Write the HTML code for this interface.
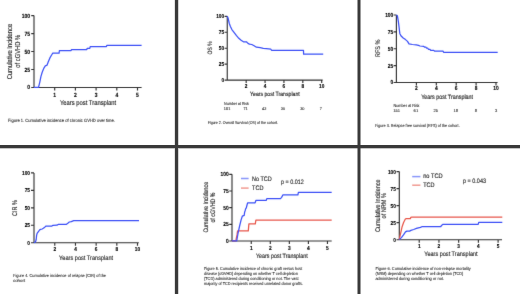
<!DOCTYPE html>
<html><head><meta charset="utf-8"><style>
html,body{margin:0;padding:0;background:#fff;width:520px;height:294px;overflow:hidden}
svg{display:block;will-change:transform;font-family:"Liberation Sans",sans-serif;text-rendering:geometricPrecision}
.ax{stroke:#333;stroke-width:1.15;fill:none}
.tl{font-weight:bold;fill:#000;stroke:#000;stroke-width:0.12px}
.al{fill:#111;stroke:#111;stroke-width:0.1px}
.cap,.num{fill:#111;stroke:#111;stroke-width:0.05px}
.b{stroke:#3b50f6;stroke-width:1.25;fill:none;stroke-linejoin:round}
.r{stroke:#e8574a;stroke-width:1.25;fill:none;stroke-linejoin:round}
.lg{stroke-width:1.5;opacity:.6}
</style></head><body>
<svg width="520" height="294" viewBox="0 0 520 294">
<defs><filter id="bl" x="-5%" y="-5%" width="110%" height="110%"><feConvolveMatrix order="3" kernelMatrix="0.0052 0.0619 0.0052 0.0619 0.7314 0.0619 0.0052 0.0619 0.0052" divisor="1" edgeMode="none"/></filter></defs>
<rect width="520" height="294" fill="#fff"/>
<g filter="url(#bl)">
<path class="ax" d="M34 15.6V87.45H141.6 M31.2 15.6H34 M31.2 33.56H34 M31.2 51.52H34 M31.2 69.49H34 M31.2 87.45H34 M54.7 87.45V90.45 M75.4 87.45V90.45 M96.1 87.45V90.45 M116.8 87.45V90.45 M137.5 87.45V90.45"/>
<g class="tl" font-size="6" text-anchor="end"><text x="30.1" y="17.61" textLength="8.34" lengthAdjust="spacingAndGlyphs">100</text><text x="30.1" y="35.57" textLength="5.56" lengthAdjust="spacingAndGlyphs">75</text><text x="30.1" y="53.53" textLength="5.56" lengthAdjust="spacingAndGlyphs">50</text><text x="30.1" y="71.5" textLength="5.56" lengthAdjust="spacingAndGlyphs">25</text><text x="30.1" y="89.46" textLength="2.78" lengthAdjust="spacingAndGlyphs">0</text></g>
<g class="tl" font-size="6" text-anchor="middle"><text x="54.7" y="96.7" textLength="2.78" lengthAdjust="spacingAndGlyphs">1</text><text x="75.4" y="96.7" textLength="2.78" lengthAdjust="spacingAndGlyphs">2</text><text x="96.1" y="96.7" textLength="2.78" lengthAdjust="spacingAndGlyphs">3</text><text x="116.8" y="96.7" textLength="2.78" lengthAdjust="spacingAndGlyphs">4</text><text x="137.5" y="96.7" textLength="2.78" lengthAdjust="spacingAndGlyphs">5</text></g>
<text class="al" x="60" y="104.7" font-size="6.9" textLength="56.2" lengthAdjust="spacingAndGlyphs">Years post Transplant</text>
<text class="al" font-size="7.14" text-anchor="middle" transform="translate(12.2 51.6) rotate(-90)" textLength="55.4" lengthAdjust="spacingAndGlyphs">Cumulative Incidence</text>
<text class="al" font-size="7.14" text-anchor="middle" transform="translate(19.8 51.3) rotate(-90)" textLength="32.8" lengthAdjust="spacingAndGlyphs">of cGVHD %</text>
<text class="cap" x="8.1" y="121.7" font-size="4.59" textLength="106.7" lengthAdjust="spacingAndGlyphs">Figure 1. Cumulative incidence of chronic GVHD over time.</text>
<polyline class="b" points="34,87.45 38.5,87.45 39.7,82.6 40.9,76.6 42.2,72.3 43.9,68.1 45.3,65.9 47,65.2 48.2,62.1 49.9,57.9 51.6,55 52.8,53.2 59.1,53.2 59.4,50.5 71.1,50.5 71.4,49.6 86.8,49.6 87.1,48.4 89.8,48.4 90.2,46.7 106.4,46.7 106.8,45.3 141.6,45.3"/>
<path class="ax" d="M227.25 16.3V80.1H322.7 M224.55 16.3H227.25 M224.55 32.25H227.25 M224.55 48.2H227.25 M224.55 64.15H227.25 M224.55 80.1H227.25 M246.18 80.1V82.9 M265.06 80.1V82.9 M283.94 80.1V82.9 M302.82 80.1V82.9 M321.7 80.1V82.9"/>
<g class="tl" font-size="5.7" text-anchor="end"><text x="224.1" y="18.2" textLength="7.92" lengthAdjust="spacingAndGlyphs">100</text><text x="224.1" y="34.15" textLength="5.28" lengthAdjust="spacingAndGlyphs">75</text><text x="224.1" y="50.1" textLength="5.28" lengthAdjust="spacingAndGlyphs">50</text><text x="224.1" y="66.05" textLength="5.28" lengthAdjust="spacingAndGlyphs">25</text><text x="224.1" y="82" textLength="2.64" lengthAdjust="spacingAndGlyphs">0</text></g>
<g class="tl" font-size="5.7" text-anchor="middle"><text x="246.18" y="88.3" textLength="2.64" lengthAdjust="spacingAndGlyphs">2</text><text x="265.06" y="88.3" textLength="2.64" lengthAdjust="spacingAndGlyphs">4</text><text x="283.94" y="88.3" textLength="2.64" lengthAdjust="spacingAndGlyphs">6</text><text x="302.82" y="88.3" textLength="2.64" lengthAdjust="spacingAndGlyphs">8</text><text x="321.7" y="88.3" textLength="5.28" lengthAdjust="spacingAndGlyphs">10</text></g>
<text class="al" x="250.1" y="96" font-size="6.03" textLength="49.6" lengthAdjust="spacingAndGlyphs">Years post Transplant</text>
<text class="al" font-size="6.32" text-anchor="middle" transform="translate(211.5 47.9) rotate(-90)" textLength="13.1" lengthAdjust="spacingAndGlyphs">OS %</text>
<text class="cap" x="224.1" y="104.7" font-size="4.2" textLength="24.8" lengthAdjust="spacingAndGlyphs">Number at Risk</text>
<text class="num" x="227.1" y="109.5" font-size="3.9" text-anchor="middle">151</text>
<text class="num" x="245.6" y="109.5" font-size="3.9" text-anchor="middle">71</text>
<text class="num" x="264.2" y="109.5" font-size="3.9" text-anchor="middle">42</text>
<text class="num" x="282.9" y="109.5" font-size="3.9" text-anchor="middle">30</text>
<text class="num" x="302.3" y="109.5" font-size="3.9" text-anchor="middle">30</text>
<text class="num" x="320.9" y="109.5" font-size="3.9" text-anchor="middle">7</text>
<text class="cap" x="207.7" y="123.5" font-size="4.09" textLength="70.2" lengthAdjust="spacingAndGlyphs">Figure 2. Overall Survival (OS) of the cohort.</text>
<polyline class="b" points="227.2,16.3 228.1,18.1 229.3,23.5 230.4,26.5 231.9,29.6 234.2,32.7 236.5,35.7 238.8,38.3 241.1,40.3 243.4,41.8 246.4,41.8 248,43.4 249.5,44.1 251.8,44.5 254.1,45.7 256.4,47.2 260.2,47.7 263.3,48.4 266.3,48.7 270.9,49.2 271.5,50.3 303.5,50.3 303.6,54.2 323.2,54.2"/>
<path class="ax" d="M396.4 15V82.45H497.6 M393.6 15H396.4 M393.6 31.86H396.4 M393.6 48.73H396.4 M393.6 65.59H396.4 M393.6 82.45H396.4 M416.4 82.45V85.45 M436.3 82.45V85.45 M456.2 82.45V85.45 M476.1 82.45V85.45 M496 82.45V85.45"/>
<g class="tl" font-size="5.88" text-anchor="end"><text x="393.3" y="16.97" textLength="8.17" lengthAdjust="spacingAndGlyphs">100</text><text x="393.3" y="33.83" textLength="5.45" lengthAdjust="spacingAndGlyphs">75</text><text x="393.3" y="50.69" textLength="5.45" lengthAdjust="spacingAndGlyphs">50</text><text x="393.3" y="67.55" textLength="5.45" lengthAdjust="spacingAndGlyphs">25</text><text x="393.3" y="84.42" textLength="2.72" lengthAdjust="spacingAndGlyphs">0</text></g>
<g class="tl" font-size="5.88" text-anchor="middle"><text x="416.4" y="90.4" textLength="2.72" lengthAdjust="spacingAndGlyphs">2</text><text x="436.3" y="90.4" textLength="2.72" lengthAdjust="spacingAndGlyphs">4</text><text x="456.2" y="90.4" textLength="2.72" lengthAdjust="spacingAndGlyphs">6</text><text x="476.1" y="90.4" textLength="2.72" lengthAdjust="spacingAndGlyphs">8</text><text x="496" y="90.4" textLength="5.45" lengthAdjust="spacingAndGlyphs">10</text></g>
<text class="al" x="421.2" y="98.8" font-size="6.32" textLength="51.9" lengthAdjust="spacingAndGlyphs">Years post Transplant</text>
<text class="al" font-size="6.67" text-anchor="middle" transform="translate(380.2 48.4) rotate(-90)" textLength="17.3" lengthAdjust="spacingAndGlyphs">RFS %</text>
<text class="cap" x="393.5" y="107.1" font-size="4.37" textLength="26" lengthAdjust="spacingAndGlyphs">Number at Risk</text>
<text class="num" x="396.6" y="112.1" font-size="4.1" text-anchor="middle">151</text>
<text class="num" x="415.9" y="112.1" font-size="4.1" text-anchor="middle">61</text>
<text class="num" x="435.8" y="112.1" font-size="4.1" text-anchor="middle">25</text>
<text class="num" x="455.8" y="112.1" font-size="4.1" text-anchor="middle">18</text>
<text class="num" x="475.8" y="112.1" font-size="4.1" text-anchor="middle">8</text>
<text class="num" x="496.2" y="112.1" font-size="4.1" text-anchor="middle">3</text>
<text class="cap" x="375" y="126.9" font-size="4.37" textLength="84.7" lengthAdjust="spacingAndGlyphs">Figure 3. Relapse free survival (RFS) of the cohort.</text>
<polyline class="b" points="396.4,15.1 397.4,15.8 398.3,21.2 399.1,27.3 399.8,33.4 400.9,35.7 403.2,38 405.5,39.6 407.5,41.4 409,43.8 412.4,44.5 416.2,44.9 418.5,45.4 420,46 423.8,46.4 424.6,47.2 426,47.2 426.6,48.2 427.8,48.2 428.4,49.3 430,49.3 430.5,50.3 433.8,50.3 434.5,51.1 443,51.1 443.6,52.3 497.7,52.3"/>
<path class="ax" d="M34 172.9V242.75H138.8 M31 172.9H34 M31 190.36H34 M31 207.82H34 M31 225.29H34 M31 242.75H34 M54.78 242.75V245.75 M75.46 242.75V245.75 M96.14 242.75V245.75 M116.82 242.75V245.75 M137.5 242.75V245.75"/>
<g class="tl" font-size="5.7" text-anchor="end"><text x="30" y="174.8" textLength="7.92" lengthAdjust="spacingAndGlyphs">100</text><text x="30" y="192.26" textLength="5.28" lengthAdjust="spacingAndGlyphs">75</text><text x="30" y="209.73" textLength="5.28" lengthAdjust="spacingAndGlyphs">50</text><text x="30" y="227.19" textLength="5.28" lengthAdjust="spacingAndGlyphs">25</text><text x="30" y="244.65" textLength="2.64" lengthAdjust="spacingAndGlyphs">0</text></g>
<g class="tl" font-size="5.7" text-anchor="middle"><text x="54.78" y="251" textLength="2.64" lengthAdjust="spacingAndGlyphs">2</text><text x="75.46" y="251" textLength="2.64" lengthAdjust="spacingAndGlyphs">4</text><text x="96.14" y="251" textLength="2.64" lengthAdjust="spacingAndGlyphs">6</text><text x="116.82" y="251" textLength="2.64" lengthAdjust="spacingAndGlyphs">8</text><text x="137.5" y="251" textLength="5.28" lengthAdjust="spacingAndGlyphs">10</text></g>
<text class="al" x="59.1" y="259.7" font-size="6.55" textLength="54" lengthAdjust="spacingAndGlyphs">Years post Transplant</text>
<text class="al" font-size="6.79" text-anchor="middle" transform="translate(16.9 208.1) rotate(-90)" textLength="15.8" lengthAdjust="spacingAndGlyphs">CIR %</text>
<text class="cap" x="13" y="276.9" font-size="4.37" textLength="93" lengthAdjust="spacingAndGlyphs">Figure 4. Cumulative incidence of relapse (CIR) of the</text>
<text class="cap" x="13" y="282.3" font-size="4.37">cohort</text>
<polyline class="b" points="34,242.75 35.6,241.7 36.2,239.5 36.6,235.4 37.1,233.4 38.2,231.8 39.7,229.9 40.7,229.3 42.2,229 43.3,228.3 44.8,227.2 45.8,226.1 51.9,226.1 53,225.3 57,225.2 58.1,224.4 66.2,224.4 67.8,223.2 69.3,222 71.3,221.6 73.7,220.6 139,220.6"/>
<path class="ax" d="M232 174.3V241H331.7 M229.2 174.3H232 M229.2 190.98H232 M229.2 207.65H232 M229.2 224.32H232 M229.2 241H232 M251.25 241V244 M270.3 241V244 M289.35 241V244 M308.4 241V244 M327.45 241V244"/>
<g class="tl" font-size="5.88" text-anchor="end"><text x="228.7" y="176.27" textLength="8.17" lengthAdjust="spacingAndGlyphs">100</text><text x="228.7" y="192.94" textLength="5.45" lengthAdjust="spacingAndGlyphs">75</text><text x="228.7" y="209.62" textLength="5.45" lengthAdjust="spacingAndGlyphs">50</text><text x="228.7" y="226.29" textLength="5.45" lengthAdjust="spacingAndGlyphs">25</text><text x="228.7" y="242.97" textLength="2.72" lengthAdjust="spacingAndGlyphs">0</text></g>
<g class="tl" font-size="5.88" text-anchor="middle"><text x="251.25" y="249.5" textLength="2.72" lengthAdjust="spacingAndGlyphs">1</text><text x="270.3" y="249.5" textLength="2.72" lengthAdjust="spacingAndGlyphs">2</text><text x="289.35" y="249.5" textLength="2.72" lengthAdjust="spacingAndGlyphs">3</text><text x="308.4" y="249.5" textLength="2.72" lengthAdjust="spacingAndGlyphs">4</text><text x="327.45" y="249.5" textLength="2.72" lengthAdjust="spacingAndGlyphs">5</text></g>
<text class="al" x="256" y="257.7" font-size="6.32" textLength="51.7" lengthAdjust="spacingAndGlyphs">Years post Transplant</text>
<text class="al" font-size="6.55" text-anchor="middle" transform="translate(208.3 207.2) rotate(-90)" textLength="50.6" lengthAdjust="spacingAndGlyphs">Cumulative Incidence</text>
<text class="al" font-size="6.55" text-anchor="middle" transform="translate(214.8 207.5) rotate(-90)" textLength="30.2" lengthAdjust="spacingAndGlyphs">of cGVHD %</text>
<path class="b lg" d="M241 178.5H248.6"/><path class="r lg" d="M241 188.1H248.6"/>
<text class="al" x="252" y="180.9" font-size="6.55" textLength="19.6" lengthAdjust="spacingAndGlyphs">No TCD</text>
<text class="al" x="252" y="189.9" font-size="6.55" textLength="11.4" lengthAdjust="spacingAndGlyphs">TCD</text>
<text class="al" x="281" y="183.8" font-size="6.32" textLength="22.8" lengthAdjust="spacingAndGlyphs">p = 0.012</text>
<text class="cap" x="204" y="269.6" font-size="4.31" textLength="98.2" lengthAdjust="spacingAndGlyphs">Figure 5. Cumulative incidence of chronic graft versus host</text>
<text class="cap" x="204" y="274.75" font-size="4.31" textLength="93.8" lengthAdjust="spacingAndGlyphs">disease (cGVHD) depending on whether T cell depletion</text>
<text class="cap" x="204" y="279.9" font-size="4.31" textLength="94.5" lengthAdjust="spacingAndGlyphs">(TCD) administered during conditioning or not. The vast</text>
<text class="cap" x="204" y="285.05" font-size="4.31" textLength="99" lengthAdjust="spacingAndGlyphs">majority of TCD recipients received unrelated donor grafts.</text>
<polyline class="r" points="232,240.95 235.8,240.95 237,234.9 237.6,230.9 248.3,230.9 248.9,223.9 255.3,223.9 255.9,220.1 331.7,220.1"/>
<polyline class="b" points="232,240.95 236.7,240.95 238.1,233 239.6,226 241.1,219.9 242.3,216.2 244.2,215.4 244.6,212.3 245.2,210.6 245.6,208.9 246.3,207.8 246.9,205.5 247.6,202.8 255.1,202.8 256,200.3 266.3,200.3 266.8,198.6 280.5,198.6 281.6,197.4 283,194.8 297.9,194.8 298.4,192.3 331.7,192.3"/>
<path class="ax" d="M399.3 171.6V239.7H502 M396.5 171.6H399.3 M396.5 188.62H399.3 M396.5 205.65H399.3 M396.5 222.67H399.3 M396.5 239.7H399.3 M419.22 239.7V242.7 M438.94 239.7V242.7 M458.66 239.7V242.7 M478.38 239.7V242.7 M498.1 239.7V242.7"/>
<g class="tl" font-size="5.7" text-anchor="end"><text x="395.8" y="173.5" textLength="7.92" lengthAdjust="spacingAndGlyphs">100</text><text x="395.8" y="190.53" textLength="5.28" lengthAdjust="spacingAndGlyphs">75</text><text x="395.8" y="207.55" textLength="5.28" lengthAdjust="spacingAndGlyphs">50</text><text x="395.8" y="224.58" textLength="5.28" lengthAdjust="spacingAndGlyphs">25</text><text x="395.8" y="241.6" textLength="2.64" lengthAdjust="spacingAndGlyphs">0</text></g>
<g class="tl" font-size="5.7" text-anchor="middle"><text x="419.22" y="247.8" textLength="2.64" lengthAdjust="spacingAndGlyphs">1</text><text x="438.94" y="247.8" textLength="2.64" lengthAdjust="spacingAndGlyphs">2</text><text x="458.66" y="247.8" textLength="2.64" lengthAdjust="spacingAndGlyphs">3</text><text x="478.38" y="247.8" textLength="2.64" lengthAdjust="spacingAndGlyphs">4</text><text x="498.1" y="247.8" textLength="2.64" lengthAdjust="spacingAndGlyphs">5</text></g>
<text class="al" x="424.2" y="256.3" font-size="6.49" textLength="53.4" lengthAdjust="spacingAndGlyphs">Years post Transplant</text>
<text class="al" font-size="6.79" text-anchor="middle" transform="translate(379.7 205.7) rotate(-90)" textLength="52.6" lengthAdjust="spacingAndGlyphs">Cumulative Incidence</text>
<text class="al" font-size="6.79" text-anchor="middle" transform="translate(385.8 205.7) rotate(-90)" textLength="25.6" lengthAdjust="spacingAndGlyphs">of NRM %</text>
<path class="b lg" d="M412.2 176.6H420.4"/><path class="r lg" d="M412.2 185.2H420.4"/>
<text class="al" x="423.2" y="178.4" font-size="6.55" textLength="19.5" lengthAdjust="spacingAndGlyphs">no TCD</text>
<text class="al" x="423.2" y="187.1" font-size="6.55" textLength="11.4" lengthAdjust="spacingAndGlyphs">TCD</text>
<text class="al" x="463" y="183.1" font-size="6.32" textLength="23" lengthAdjust="spacingAndGlyphs">p = 0.043</text>
<text class="cap" x="375.4" y="269.6" font-size="4.31" textLength="95.4" lengthAdjust="spacingAndGlyphs">Figure 6. Cumulative incidence of non-relapse mortality</text>
<text class="cap" x="375.4" y="274.65" font-size="4.31" textLength="87.9" lengthAdjust="spacingAndGlyphs">(NRM) depending on whether T cell depletion (TCD)</text>
<text class="cap" x="375.4" y="279.7" font-size="4.31" textLength="68.6" lengthAdjust="spacingAndGlyphs">administered during conditioning or not.</text>
<polyline class="r" points="399.3,239.65 400.1,235.6 401.2,230.8 402.1,226.7 403.5,222.7 404.2,221.3 405.2,219.3 406.2,218.6 410.3,218.6 410.9,217.4 412,217 502.3,217"/>
<polyline class="b" points="399.3,239.65 401.4,237.6 403.5,234.9 405.5,231.9 406.9,231.1 409.6,231.1 410.9,230.4 413.7,229.5 416.4,228.4 418.4,227.8 420.5,227.4 421.8,226.7 440.8,226.7 441.5,225.4 443,224.3 478.2,224.3 478.7,222.3 502.3,222.3"/>
</g>
<rect x="174" y="0" width="1" height="294" fill="#e4e4e4"/>
<rect x="178" y="0" width="1" height="294" fill="#d4d4d4"/>
<rect x="0" y="148" width="520" height="1" fill="#c4c4c4"/>
<rect x="175" y="0" width="3" height="294" fill="#393939"/>
<rect x="357.5" y="0" width="3" height="294" fill="#393939"/>
<rect x="0" y="145" width="520" height="3" fill="#393939"/>
</svg>
</body></html>
